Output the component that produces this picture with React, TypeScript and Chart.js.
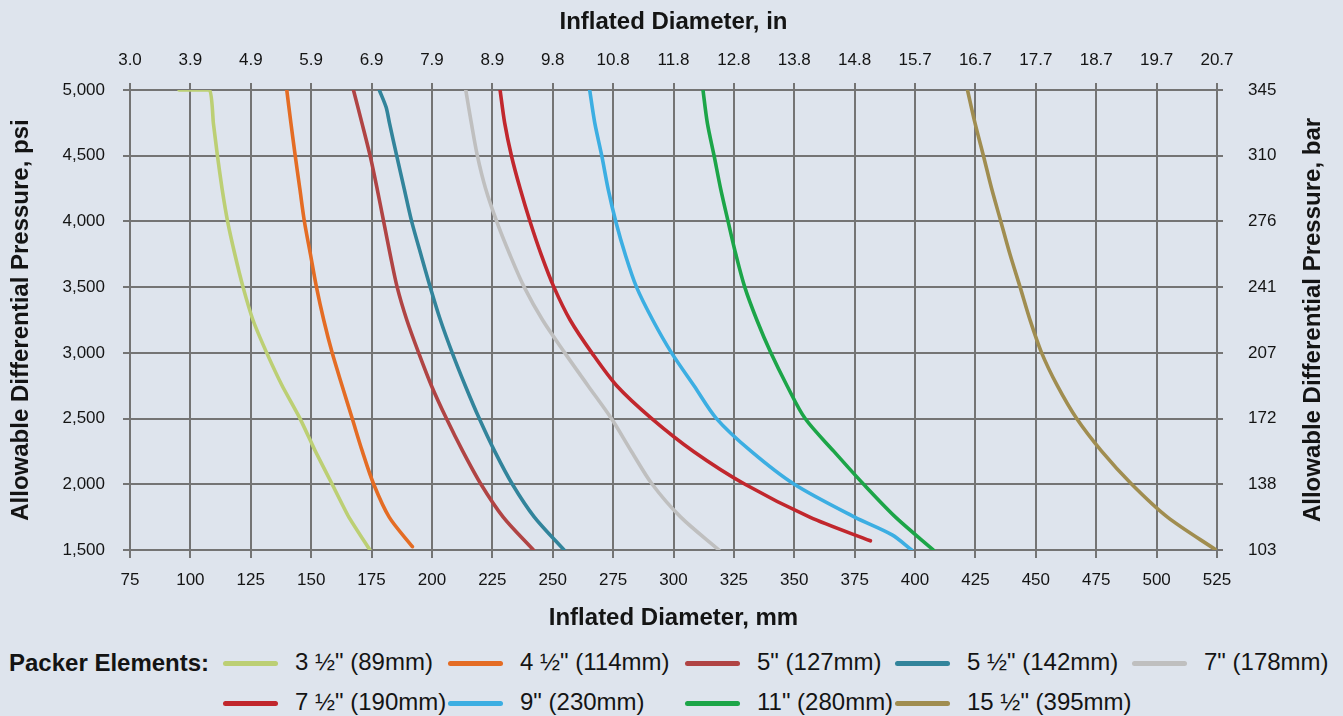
import React, { useEffect, useRef } from 'react';
import { Chart, registerables } from 'chart.js';

Chart.register(...registerables);

const FONT = "'Liberation Sans', Arial, Helvetica, sans-serif";
const BG = '#dee4ed';
const GRID = '#747474';
const TEXT = '#141414';

// Tick labels
const inchLabels = ['3.0', '3.9', '4.9', '5.9', '6.9', '7.9', '8.9', '9.8', '10.8', '11.8', '12.8', '13.8', '14.8', '15.7', '16.7', '17.7', '18.7', '19.7', '20.7'];
const psiLabels = ['1,500', '2,000', '2,500', '3,000', '3,500', '4,000', '4,500', '5,000'];
const barLabels = ['103', '138', '172', '207', '241', '276', '310', '345'];

// Series names and colours
const sizeLabels = ['3 ½" (89mm)', '4 ½" (114mm)', '5" (127mm)', '5 ½" (142mm)', '7" (178mm)', '7 ½" (190mm)', '9" (230mm)', '11" (280mm)', '15 ½" (395mm)'];
const sizeColors = ['#bccf74', '#e46c24', '#b04444', '#32849b', '#bfbfbf', '#c1272d', '#3caee2', '#1ca548', '#a08d50'];

// 3 1/2"
const psi35 = [5000, 5000, 4750, 4500, 4250, 4000, 3750, 3500, 3250, 3000, 2750, 2500, 2250, 2000, 1750, 1500];
const mm35 = [95.3, 107.9, 109.5, 111.2, 113.1, 115.4, 118.4, 121.8, 125.9, 131.6, 138.0, 145.4, 151.8, 158.7, 165.6, 174.3];
// 4 1/2"
const psi45 = [5000, 4750, 4500, 4250, 4000, 3750, 3500, 3250, 3000, 2750, 2500, 2250, 2000, 1750, 1525];
const mm45 = [139.9, 141.6, 143.4, 145.3, 147.2, 149.7, 152.2, 155.2, 158.7, 162.8, 167.0, 171.2, 175.9, 182.3, 191.9];
// 5"
const psi50 = [5000, 4750, 4500, 4250, 4000, 3750, 3500, 3250, 3000, 2750, 2500, 2250, 2000, 1750, 1500];
const mm50 = [167.5, 171.0, 174.4, 177.3, 180.0, 182.7, 185.6, 189.6, 194.5, 199.8, 206.0, 212.8, 220.3, 229.5, 242.0];
// 5 1/2"
const psi55 = [5000, 4870, 4750, 4500, 4250, 4000, 3750, 3500, 3250, 3000, 2750, 2500, 2250, 2000, 1750, 1500];
const mm55 = [178.2, 181.0, 182.4, 185.4, 188.5, 191.6, 195.4, 199.3, 203.5, 208.4, 213.8, 219.6, 226.0, 233.3, 242.4, 254.7];
// 7"
const psi70 = [5000, 4750, 4500, 4250, 4000, 3750, 3500, 3250, 3000, 2750, 2500, 2250, 2000, 1750, 1500];
const mm70 = [214.0, 216.3, 218.8, 222.2, 226.8, 232.2, 238.2, 245.8, 255.0, 264.6, 274.3, 282.6, 291.2, 303.0, 318.8];
// 7 1/2"
const psi75 = [5000, 4750, 4500, 4250, 4000, 3750, 3500, 3250, 3000, 2750, 2500, 2250, 2000, 1750, 1570];
const mm75 = [228.2, 230.1, 232.9, 236.5, 240.6, 245.2, 250.5, 257.2, 266.2, 276.5, 291.0, 308.3, 329.6, 356.4, 381.5];
// 9"
const psi90 = [5000, 4750, 4500, 4250, 4000, 3750, 3500, 3250, 3000, 2750, 2500, 2250, 2000, 1750, 1615, 1500];
const mm90 = [265.3, 267.4, 270.3, 272.9, 276.1, 280.0, 284.7, 291.4, 299.2, 308.5, 317.8, 332.2, 350.0, 375.0, 390.5, 398.6];
// 11"
const psi110 = [5000, 4750, 4500, 4250, 4000, 3750, 3500, 3250, 3000, 2750, 2500, 2250, 2000, 1750, 1500];
const mm110 = [312.2, 314.0, 316.8, 319.5, 322.6, 325.8, 329.5, 334.5, 340.3, 347.0, 354.5, 366.4, 378.7, 391.9, 407.6];
// 15 1/2"
const psi155 = [5000, 4750, 4500, 4250, 4000, 3750, 3500, 3250, 3000, 2750, 2500, 2250, 2000, 1750, 1500];
const mm155 = [421.7, 424.8, 428.3, 431.7, 435.5, 439.3, 443.5, 447.6, 452.4, 458.9, 466.9, 477.3, 489.7, 504.5, 524.6];

const seriesMm = [mm35, mm45, mm50, mm55, mm70, mm75, mm90, mm110, mm155];
const seriesPsi = [psi35, psi45, psi50, psi55, psi70, psi75, psi90, psi110, psi155];

// Layout (styles only)
const legendCols = [223, 448, 685, 895, 1132];
const legendRows = [663, 703];

const rightTitlePlugin = {
  id: 'rightTitle',
  afterDraw(chart: any) {
    const { ctx, chartArea } = chart;
    const s = chart.scales.y2;
    ctx.save();
    ctx.translate(s.right - 30, (chartArea.top + chartArea.bottom) / 2);
    ctx.rotate(-Math.PI / 2);
    ctx.font = `bold 24px ${FONT}`;
    ctx.fillStyle = TEXT;
    ctx.textAlign = 'center';
    ctx.textBaseline = 'middle';
    ctx.fillText('Allowable Differential Pressure, bar', 0, 0);
    ctx.restore();
  },
};

export default function App() {
  const ref = useRef<HTMLCanvasElement>(null);

  useEffect(() => {
    document.body.style.margin = '0';
    document.body.style.background = BG;
    const datasets = sizeLabels.map((label, k) => ({
      label,
      data: seriesMm[k].map((x, i) => ({ x, y: seriesPsi[k][i] })),
      borderColor: sizeColors[k],
      backgroundColor: sizeColors[k],
      borderWidth: 3.6,
      pointRadius: 0,
      tension: k === 0 ? 0.15 : 0.3,
      fill: false,
      borderCapStyle: 'round' as const,
      borderJoinStyle: 'round' as const,
    }));
    const tickFont = { family: FONT, size: 17 };
    const titleFont = { family: FONT, size: 24, weight: 'bold' as const };
    const chart = new Chart(ref.current!, {
      type: 'line',
      data: { datasets },
      plugins: [rightTitlePlugin],
      options: {
        responsive: false,
        animation: false,
        layout: { padding: 0 },
        plugins: { legend: { display: false }, tooltip: { enabled: false } },
        scales: {
          x: {
            type: 'linear',
            position: 'bottom',
            min: 75,
            max: 525,
            ticks: { stepSize: 25, font: tickFont, color: TEXT, padding: 12, maxRotation: 0, autoSkip: false },
            grid: { color: GRID, lineWidth: 2, tickLength: 8 },
            border: { color: GRID, width: 2 },
            title: { display: true, text: 'Inflated Diameter, mm', font: titleFont, color: TEXT, padding: { top: 0, bottom: 7 } },
            afterFit: (s: any) => { s.height = 90; },
          },
          x2: {
            type: 'linear',
            position: 'top',
            min: 75,
            max: 525,
            ticks: { stepSize: 25, font: tickFont, color: TEXT, padding: 12, maxRotation: 0, autoSkip: false, callback: (_v: any, i: number) => inchLabels[i] },
            grid: { color: GRID, lineWidth: 2, tickLength: 7, drawOnChartArea: false },
            border: { color: GRID, width: 2 },
            title: { display: true, text: 'Inflated Diameter, in', font: titleFont, color: TEXT, padding: { top: 8, bottom: 0 } },
            afterFit: (s: any) => { s.height = 90; },
          },
          y: {
            type: 'linear',
            position: 'left',
            min: 1500,
            max: 5000,
            ticks: { stepSize: 500, font: tickFont, color: TEXT, padding: 18, autoSkip: false, callback: (_v: any, i: number) => psiLabels[i] },
            grid: { color: GRID, lineWidth: 2, tickLength: 7 },
            border: { color: GRID, width: 2 },
            title: { display: true, text: 'Allowable Differential Pressure, psi', font: titleFont, color: TEXT, padding: { top: 7, bottom: 0 } },
            afterFit: (s: any) => { s.width = 130; },
          },
          y2: {
            type: 'linear',
            position: 'right',
            min: 1500,
            max: 5000,
            ticks: { stepSize: 500, font: tickFont, color: TEXT, padding: 25, autoSkip: false, callback: (_v: any, i: number) => barLabels[i] },
            grid: { color: GRID, lineWidth: 2, tickLength: 6, drawOnChartArea: false },
            border: { color: GRID, width: 2 },
            title: { display: false },
            afterFit: (s: any) => { s.width = 126; },
          },
        },
      } as any,
    });
    return () => chart.destroy();
  }, []);

  return (
    <div style={{ position: 'relative', width: 1343, height: 716, background: BG, overflow: 'hidden', fontFamily: FONT, color: TEXT }}>
      <canvas ref={ref} width={1343} height={640} style={{ position: 'absolute', left: 0, top: 0, width: 1343, height: 640 }} />
      <div style={{ position: 'absolute', left: 9, top: legendRows[0] - 15, height: 30, display: 'flex', alignItems: 'center', fontSize: 24, fontWeight: 'bold', lineHeight: 1, whiteSpace: 'nowrap' }}>
        Packer Elements:
      </div>
      {sizeLabels.map((label, k) => {
        const row = k < 5 ? 0 : 1;
        const col = k < 5 ? k : k - 5;
        const left = legendCols[col];
        const cy = legendRows[row];
        return (
          <React.Fragment key={label}>
            <div style={{ position: 'absolute', left, top: cy - 2, width: 55, height: 5, borderRadius: 3, background: sizeColors[k] }} />
            <div style={{ position: 'absolute', left: left + 72, top: cy - 16, height: 30, display: 'flex', alignItems: 'center', fontSize: 24, lineHeight: 1, whiteSpace: 'nowrap' }}>
              {label}
            </div>
          </React.Fragment>
        );
      })}
    </div>
  );
}
